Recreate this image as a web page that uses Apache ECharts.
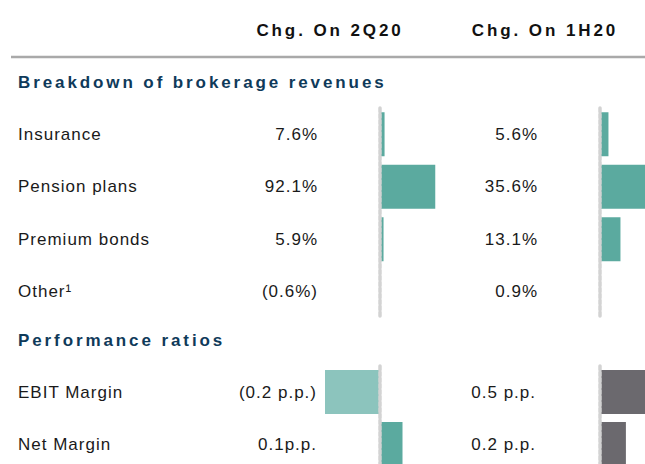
<!DOCTYPE html>
<html lang="en">
<head>
<meta charset="UTF-8">
<title>Brokerage revenues</title>
<script src="https://cdn.jsdelivr.net/npm/echarts@6.0.0/dist/echarts.min.js"></script>
<style>
    html, body { margin: 0; padding: 0; background: #fff; }
    #main { width: 645px; height: 464px; }
    /* the source slide is tracked out, zrender has no letter spacing of its own */
    #main text { letter-spacing: 1px; }
    #main text[style*="bold"] { letter-spacing: 2.9px; }
</style>
</head>
<body>
<div id="main"></div>
<script>
    // brokerage revenues, % change
    var breakdownRows = ['Insurance', 'Pension plans', 'Premium bonds', 'Other\u00b9'];
    var chg2q20 = [7.6, 92.1, 5.9, -0.6];
    var chg2q20Text = ['7.6%', '92.1%', '5.9%', '(0.6%)'];
    var chg1h20 = [5.6, 35.6, 13.1, 0.9];
    var chg1h20Text = ['5.6%', '35.6%', '13.1%', '0.9%'];

    // performance ratios, p.p. change (bar lengths)
    var ratioRows = ['EBIT Margin', 'Net Margin'];
    var ratio2q20 = [-0.22, 0.09];
    var ratio2q20Text = ['(0.2 p.p.)', '0.1p.p.'];
    var ratio1h20 = [0.5, 0.2];
    var ratio1h20Text = ['0.5 p.p.', '0.2 p.p.'];

    var columnTitles = ['Chg. On 2Q20', 'Chg. On 1H20'];
    var sectionTitles = ['Breakdown of brokerage revenues', 'Performance ratios'];

    var TEAL = '#5baa9f';
    var TEAL_LIGHT = '#8cc4bd';
    var GREY = '#6b696e';
    var FONT = 'Liberation Sans';

    var myChart = echarts.init(document.getElementById('main'), null, {renderer: 'svg'});

    // labels hang off the grid's left edge, the dashed line sits on zero
    function zeroAxis(grid, rows, texts, margin) {
        return {
            type: 'category',
            gridIndex: grid,
            position: 'left',
            data: rows,
            inverse: true,
            z: 10,
            axisLine: {
                show: true,
                onZero: true,
                lineStyle: {color: '#d3d3d3', width: 3.5, type: [4, 2]}
            },
            axisTick: {show: false},
            splitLine: {show: false},
            axisLabel: {
                margin: margin,
                align: 'right',
                fontSize: 17,
                fontFamily: FONT,
                color: '#1a1a1a',
                formatter: function (v, i) { return texts[i]; }
            }
        };
    }

    function nameAxis(grid, rows, margin) {
        return {
            type: 'category',
            gridIndex: grid,
            position: 'left',
            data: rows,
            inverse: true,
            axisLine: {show: false, onZero: false},
            axisTick: {show: false},
            splitLine: {show: false},
            axisLabel: {
                margin: margin,
                align: 'left',
                fontSize: 17,
                fontFamily: FONT,
                color: '#1a1a1a'
            }
        };
    }

    function valueAxis(grid, min, max) {
        return {type: 'value', gridIndex: grid, min: min, max: max, show: false};
    }

    function barSeries(axis, data, color) {
        return {
            type: 'bar',
            xAxisIndex: axis,
            yAxisIndex: axis,
            data: data,
            barWidth: 44,
            silent: true,
            itemStyle: {
                color: color || function (p) { return p.value < 0 ? TEAL_LIGHT : TEAL; }
            }
        };
    }

    function titleText(text, x, y, align, fill) {
        return {
            type: 'text',
            style: {
                text: text, x: x, y: y,
                align: align, textAlign: align,
                verticalAlign: 'middle', textVerticalAlign: 'middle',
                fontSize: 17, fontWeight: 'bold', fontFamily: FONT,
                fill: fill || '#111111'
            }
        };
    }

    function gridBox(left, top, width, height) {
        return {left: left, top: top, width: width, height: height, outerBoundsMode: 'none', containLabel: false};
    }

    option = {
        animation: false,
        grid: [
            gridBox(356, 108, 120, 210),
            gridBox(599.5, 108, 96, 210),
            gridBox(317.5, 366, 162.5, 104),
            gridBox(599.5, 366, 66, 104)
        ],
        xAxis: [
            valueAxis(0, -40, 160),
            valueAxis(1, 0, 60),
            valueAxis(2, -0.25, 0.4),
            valueAxis(3, 0, 0.5)
        ],
        yAxis: [
            zeroAxis(0, breakdownRows, chg2q20Text, 38),
            zeroAxis(1, breakdownRows, chg1h20Text, 61.5),
            zeroAxis(2, ratioRows, ratio2q20Text, 0.5),
            zeroAxis(3, ratioRows, ratio1h20Text, 63.5),
            nameAxis(0, breakdownRows, 338),
            nameAxis(2, ratioRows, 299.5)
        ],
        series: [
            barSeries(0, chg2q20),
            barSeries(1, chg1h20),
            barSeries(2, ratio2q20),
            barSeries(3, ratio1h20, GREY)
        ],
        graphic: [
            titleText(columnTitles[0], 330, 30, 'center'),
            titleText(columnTitles[1], 545, 30, 'center'),
            {
                type: 'line',
                shape: {x1: 11, y1: 57, x2: 645, y2: 57},
                style: {stroke: '#a9a9a9', lineWidth: 2.5}
            },
            titleText(sectionTitles[0], 18, 82, 'left', '#0f3a5a'),
            titleText(sectionTitles[1], 18, 340, 'left', '#0f3a5a')
        ]
    };

    myChart.setOption(option);
</script>
</body>
</html>
